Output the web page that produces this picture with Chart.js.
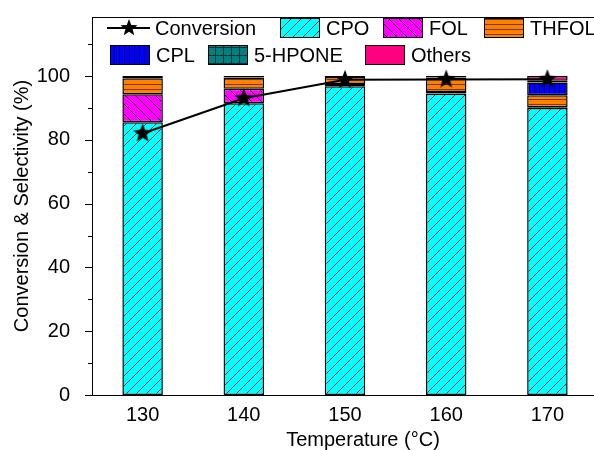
<!DOCTYPE html>
<html>
<head>
<meta charset="utf-8">
<script src="https://cdn.jsdelivr.net/npm/chart.js@4.4.0/dist/chart.umd.min.js"></script>
<style>
html, body { margin: 0; padding: 0; overflow: hidden; background: #fff; }
#wrap { width: 604px; height: 460px; }
</style>
</head>
<body>
<div id="wrap"><canvas id="chart"></canvas></div>
<script>
// data
var temps = ['130', '140', '150', '160', '170'];
var conversion = [82, 93, 98.8, 98.9, 99];
var cpo = [85.5, 91.5, 96.8, 94.5, 90];
var fol = [8.8, 4.5, 0.7, 0.5, 0.2];
var thfol = [5, 3.5, 2.2, 4.5, 3.8];
var cpl = [0, 0, 0, 0, 4];
var hpone = [0, 0, 0, 0, 0.5];
var others = [0.7, 0.5, 0.3, 0.5, 1.5];

var FONT = 'Liberation Sans, Arial, sans-serif';

function hatch(bg, kind, line, size) {
	var s = size || 10;
	var c = document.createElement('canvas');
	c.width = s; c.height = s;
	var g = c.getContext('2d');
	g.fillStyle = bg;
	g.fillRect(0, 0, s, s);
	if (kind) {
		g.strokeStyle = line;
		g.lineWidth = 1;
		g.beginPath();
		if (kind == '/') {
			g.moveTo(0, s); g.lineTo(s, 0);
			g.moveTo(-2, 2); g.lineTo(2, -2);
			g.moveTo(s - 2, s + 2); g.lineTo(s + 2, s - 2);
		} else if (kind == '\\') {
			g.moveTo(0, 0); g.lineTo(s, s);
			g.moveTo(s - 2, -2); g.lineTo(s + 2, 2);
			g.moveTo(-2, s - 2); g.lineTo(2, s + 2);
		} else if (kind == '-') {
			g.moveTo(0, s - 0.5); g.lineTo(s, s - 0.5);
		} else if (kind == '|') {
			g.moveTo(s - 0.5, 0); g.lineTo(s - 0.5, s);
		} else if (kind == '+') {
			g.moveTo(0, s - 0.5); g.lineTo(s, s - 0.5);
			g.moveTo(s - 0.5, 0); g.lineTo(s - 0.5, s);
		}
		g.stroke();
	}
	return g.createPattern(c, 'repeat');
}

function starImage(r) {
	var c = document.createElement('canvas');
	c.width = c.height = r * 2 + 2;
	var g = c.getContext('2d');
	g.translate(r + 1, r + 1);
	g.fillStyle = '#000';
	g.beginPath();
	for (var i = 0; i < 10; i++) {
		var rad = i % 2 ? r * 0.42 : r;
		var a = -Math.PI / 2 + i * Math.PI / 5;
		g.lineTo(rad * Math.cos(a), rad * Math.sin(a));
	}
	g.closePath();
	g.fill();
	return c;
}

var fills = {
	CPO: hatch('#00ffff', '/', '#1a4a4a', 10),
	FOL: hatch('#ff00ff', '\\', '#3a003a', 10),
	THFOL: hatch('#ff8000', '-', '#7a3a00', 5),
	CPL: hatch('#0000ff', '|', '#000060', 5),
	'5-HPONE': hatch('#008080', '+', '#003030', 8),
	Others: hatch('#ff0080', null, null, 4)
};
var star = starImage(10);
var legendStar = starImage(9);

function barSet(label, values) {
	return {
		type: 'bar',
		label: label,
		data: values,
		backgroundColor: fills[label],
		borderColor: '#000',
		borderWidth: 1.5,
		borderSkipped: false,
		stack: 'sel',
		order: 1,
		barPercentage: 0.4,
		categoryPercentage: 1
	};
}

// legend, frame, minor ticks and x title drawn by hand, like the original
var extras = {
	id: 'extras',
	afterDraw: function(chart) {
		var ctx = chart.ctx, a = chart.chartArea, y = chart.scales.y;
		ctx.save();
		ctx.strokeStyle = '#000';
		ctx.lineWidth = 1;
		ctx.beginPath();
		ctx.moveTo(a.left, a.top + 0.5);
		ctx.lineTo(a.right, a.top + 0.5);
		// y ticks: major every 20, minor between
		for (var v = 0; v <= 110; v += 10) {
			var py = Math.round(y.getPixelForValue(v)) + 0.5;
			var len = v % 20 == 0 ? 7 : 4;
			ctx.moveTo(a.left - len, py);
			ctx.lineTo(a.left, py);
		}
		ctx.stroke();

		ctx.font = '20px ' + FONT;
		ctx.fillStyle = '#000';
		ctx.textBaseline = 'middle';
		ctx.textAlign = 'center';
		ctx.fillText('Temperature (°C)', 363, 440);
		ctx.textAlign = 'left';

		var l = a.left;
		// conversion entry
		var cy = 28;
		ctx.lineWidth = 2;
		ctx.beginPath();
		ctx.moveTo(l + 15, cy);
		ctx.lineTo(l + 58, cy);
		ctx.stroke();
		ctx.drawImage(legendStar, l + 37 - legendStar.width / 2, cy - legendStar.height / 2);
		ctx.fillText('Conversion', l + 63, cy + 1);

		var items = [
			['CPO', 188, 28], ['FOL', 291, 28], ['THFOL', 392, 28],
			['CPL', 18, 55], ['5-HPONE', 116, 55], ['Others', 273, 55]
		];
		ctx.lineWidth = 1;
		items.forEach(function(it) {
			var x = l + it[1], yy = it[2];
			ctx.fillStyle = fills[it[0]];
			ctx.fillRect(x, yy - 10, 40, 20);
			ctx.strokeRect(x + 0.5, yy - 9.5, 39, 19);
			ctx.fillStyle = '#000';
			ctx.fillText(it[0], x + 46, yy + 1);
		});
		ctx.restore();
	}
};

Chart.defaults.font.family = FONT;
Chart.defaults.color = '#000';

new Chart(document.getElementById('chart'), {
	data: {
		labels: temps,
		datasets: [
			{
				type: 'line',
				label: 'Conversion',
				data: conversion,
				borderColor: '#000',
				borderWidth: 2,
				pointStyle: star,
				stack: 'conv',
				order: 0
			},
			barSet('CPO', cpo),
			barSet('FOL', fol),
			barSet('THFOL', thfol),
			barSet('CPL', cpl),
			barSet('5-HPONE', hpone),
			barSet('Others', others)
		]
	},
	options: {
		animation: false,
		responsive: true,
		maintainAspectRatio: false,
		devicePixelRatio: 1,
		layout: { padding: { top: 17, right: 2, left: 0, bottom: 0 } },
		plugins: { legend: { display: false }, tooltip: { enabled: false } },
		scales: {
			x: {
				stacked: true,
				offset: true,
				grid: { display: false },
				border: { color: '#000', width: 1 },
				ticks: { font: { size: 20 }, padding: 0 },
				afterFit: function(s) { s.height = 65; }
			},
			y: {
				stacked: true,
				min: 0,
				max: 118.5,
				grid: { display: false },
				border: { color: '#000', width: 1 },
				ticks: {
					stepSize: 10,
					font: { size: 20 },
					padding: 14,
					callback: function(v) { return (v % 20 == 0 && v <= 100) ? v : ''; }
				},
				title: { display: true, text: 'Conversion & Selectivity (%)', font: { size: 20 }, padding: { top: 10, bottom: 0 } },
				afterFit: function(s) { s.width = 92; s.paddingTop = 0; s.paddingBottom = 0; }
			}
		}
	},
	plugins: [extras]
});
</script>
</body>
</html>
